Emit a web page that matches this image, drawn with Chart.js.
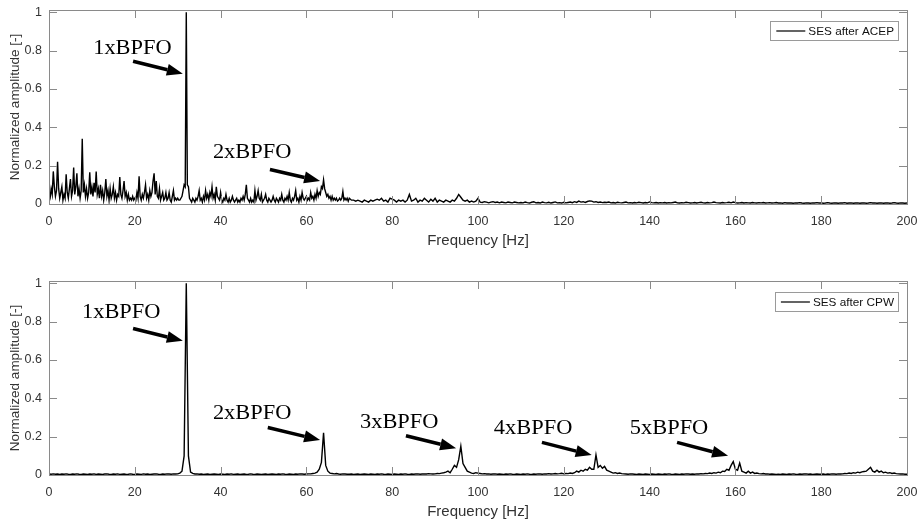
<!DOCTYPE html>
<html>
<head>
<meta charset="utf-8">
<script src="https://cdn.jsdelivr.net/npm/chart.js@4.4.1/dist/chart.umd.min.js"></script>
<style>
  body { margin: 0; background: #fff; }
  .panel { position: absolute; left: 0; width: 921px; }
</style>
</head>
<body>
<div class="panel" style="top:0;height:255px"><canvas id="acepChart"></canvas></div>
<div class="panel" style="top:271px;height:250px"><canvas id="cpwChart"></canvas></div>
<script>
const xTicks = [0, 20, 40, 60, 80, 100, 120, 140, 160, 180, 200];
const yTicks = [0, 0.2, 0.4, 0.6, 0.8, 1];

// SES after ACEP: 0-69.75 Hz in 0.25 Hz bins
const acepLowStart = 0, acepLowStep = 0.25;
const acepLow = [
  0.01, 0.03, 0.08, 0.05, 0.17, 0.09, 0.04, 0.07, 0.22, 0.08, 0.03, 0.06, 0.09, 0.02, 0.05, 0.03, 0.155, 0.06, 0.03, 0.08,
  0.13, 0.04, 0.07, 0.19, 0.05, 0.09, 0.16, 0.04, 0.08, 0.03, 0.07, 0.34, 0.06, 0.1, 0.04, 0.08, 0.03, 0.06, 0.165, 0.05,
  0.09, 0.04, 0.11, 0.06, 0.17, 0.05, 0.08, 0.03, 0.1, 0.04, 0.07, 0.02, 0.06, 0.13, 0.04, 0.07, 0.02, 0.08, 0.03, 0.05,
  0.09, 0.03, 0.06, 0.02, 0.05, 0.04, 0.14, 0.05, 0.03, 0.07, 0.12, 0.04, 0.06, 0.02, 0.05, 0.02, 0.03, 0.02, 0.04, 0.02,
  0.03, 0.02, 0.06, 0.03, 0.145, 0.04, 0.02, 0.05, 0.03, 0.06, 0.1, 0.03, 0.05, 0.02, 0.07, 0.04, 0.06, 0.12, 0.16, 0.05,
  0.12, 0.04, 0.03, 0.08, 0.02, 0.04, 0.06, 0.02, 0.03, 0.06, 0.02, 0.03, 0.06, 0.02, 0.01, 0.04, 0.07, 0.02, 0.03, 0.02,
  0.03, 0.02, 0.02, 0.03, 0.04, 0.07, 0.1, 0.09, 1.0, 0.1, 0.09, 0.03, 0.02, 0.01, 0.03, 0.02, 0.01, 0.03, 0.02, 0.04,
  0.07, 0.02, 0.03, 0.01, 0.04, 0.02, 0.07, 0.03, 0.05, 0.02, 0.06, 0.04, 0.09, 0.03, 0.05, 0.02, 0.09, 0.04, 0.03, 0.02,
  0.06, 0.02, 0.01, 0.03, 0.02, 0.05, 0.02, 0.01, 0.03, 0.01, 0.02, 0.04, 0.02, 0.01, 0.02, 0.03, 0.01, 0.02, 0.01, 0.03,
  0.02, 0.04, 0.02, 0.05, 0.1, 0.03, 0.02, 0.01, 0.03, 0.01, 0.02, 0.01, 0.07, 0.02, 0.04, 0.07, 0.03, 0.02, 0.05, 0.01,
  0.02, 0.03, 0.05, 0.02, 0.01, 0.03, 0.02, 0.01, 0.02, 0.04, 0.02, 0.01, 0.03, 0.02, 0.01, 0.03, 0.02, 0.05, 0.02, 0.01,
  0.03, 0.02, 0.04, 0.02, 0.06, 0.02, 0.01, 0.03, 0.02, 0.04, 0.07, 0.02, 0.03, 0.01, 0.04, 0.02, 0.06, 0.03, 0.02, 0.03,
  0.04, 0.02, 0.03, 0.02, 0.06, 0.03, 0.04, 0.02, 0.05, 0.03, 0.07, 0.04, 0.06, 0.05, 0.09, 0.08, 0.125, 0.08, 0.06, 0.04,
  0.05, 0.03, 0.04, 0.02, 0.04, 0.02, 0.03, 0.02, 0.03, 0.015, 0.02, 0.03, 0.02, 0.03, 0.065, 0.02, 0.03, 0.02, 0.03, 0.015
];
// SES after ACEP: 70-200 Hz in 0.5 Hz bins
const acepHighStart = 70, acepHighStep = 0.5;
const acepHigh = [
  0.03, 0.02, 0.02, 0.015, 0.02, 0.015, 0.01, 0.02, 0.015, 0.01, 0.02, 0.015, 0.02, 0.025, 0.02, 0.03, 0.015, 0.02, 0.01, 0.03,
  0.025, 0.02, 0.01, 0.02, 0.015, 0.02, 0.01, 0.02, 0.05, 0.015, 0.02, 0.03, 0.01, 0.02, 0.015, 0.03, 0.02, 0.01, 0.025, 0.015,
  0.03, 0.01, 0.02, 0.015, 0.01, 0.02, 0.015, 0.01, 0.02, 0.015, 0.03, 0.05, 0.035, 0.02, 0.015, 0.02, 0.01, 0.015, 0.01, 0.015,
  0.03, 0.01, 0.008, 0.012, 0.01, 0.006, 0.01, 0.012, 0.008, 0.01, 0.006, 0.01, 0.008, 0.006, 0.01, 0.008, 0.006, 0.01, 0.008, 0.006,
  0.008, 0.006, 0.01, 0.007, 0.005, 0.009, 0.012, 0.006, 0.008, 0.005, 0.01, 0.007, 0.006, 0.009, 0.005, 0.008, 0.011, 0.006, 0.007, 0.005,
  0.009, 0.006, 0.008, 0.01, 0.007, 0.012, 0.008, 0.015, 0.01, 0.012, 0.008, 0.013, 0.016, 0.015, 0.01, 0.012, 0.008, 0.01, 0.007, 0.009,
  0.008, 0.01, 0.006, 0.008, 0.005, 0.009, 0.007, 0.006, 0.008, 0.01, 0.006, 0.007, 0.005, 0.008, 0.006, 0.009, 0.007, 0.005, 0.008, 0.006,
  0.011, 0.007, 0.006, 0.008, 0.005, 0.007, 0.006, 0.008, 0.005, 0.007, 0.006, 0.008, 0.01, 0.006, 0.005, 0.007, 0.006, 0.009, 0.007, 0.005,
  0.006, 0.008, 0.005, 0.007, 0.009, 0.006, 0.005, 0.008, 0.006, 0.007, 0.01, 0.007, 0.006, 0.005, 0.008, 0.006, 0.007, 0.009, 0.006, 0.01,
  0.007, 0.005, 0.006, 0.008, 0.005, 0.007, 0.006, 0.005, 0.008, 0.006, 0.005, 0.007, 0.006, 0.008, 0.005, 0.006, 0.007, 0.005, 0.006, 0.008,
  0.005, 0.006, 0.004, 0.007, 0.005, 0.006, 0.005, 0.004, 0.006, 0.005, 0.007, 0.005, 0.004, 0.006, 0.005, 0.004, 0.006, 0.005, 0.007, 0.005,
  0.006, 0.004, 0.005, 0.007, 0.005, 0.004, 0.006, 0.005, 0.004, 0.006, 0.005, 0.007, 0.004, 0.005, 0.006, 0.004, 0.005, 0.006, 0.004, 0.005,
  0.006, 0.004, 0.005, 0.007, 0.005, 0.006, 0.004, 0.005, 0.006, 0.004, 0.005, 0.006, 0.004, 0.005, 0.007, 0.005, 0.004, 0.006, 0.005, 0.004,
  0.005
];

// SES after CPW: 0-200 Hz in 0.5 Hz bins
const cpwStart = 0, cpwStep = 0.5;
const cpwAmp = [
  0.005, 0.004, 0.006, 0.004, 0.005, 0.003, 0.005, 0.004, 0.006, 0.004, 0.003, 0.005, 0.004, 0.006, 0.004, 0.003, 0.005, 0.004, 0.003, 0.005,
  0.004, 0.006, 0.003, 0.005, 0.004, 0.003, 0.005, 0.006, 0.004, 0.003, 0.005, 0.004, 0.006, 0.003, 0.004, 0.005, 0.003, 0.004, 0.006, 0.004,
  0.003, 0.005, 0.004, 0.003, 0.006, 0.004, 0.005, 0.003, 0.004, 0.005, 0.006, 0.004, 0.003, 0.005, 0.004, 0.006, 0.005, 0.004, 0.006, 0.005,
  0.006, 0.01, 0.02, 0.1, 1.0, 0.1, 0.015, 0.008, 0.005, 0.006, 0.004, 0.005, 0.003, 0.004, 0.005, 0.003, 0.004, 0.005, 0.004, 0.003,
  0.005, 0.004, 0.003, 0.005, 0.004, 0.006, 0.003, 0.004, 0.005, 0.003, 0.004, 0.005, 0.003, 0.004, 0.006, 0.004, 0.003, 0.005, 0.004, 0.003,
  0.004, 0.005, 0.003, 0.004, 0.005, 0.004, 0.003, 0.005, 0.004, 0.006, 0.004, 0.003, 0.005, 0.004, 0.003, 0.005, 0.004, 0.006, 0.005, 0.004,
  0.005, 0.006, 0.006, 0.008, 0.01, 0.015, 0.03, 0.066, 0.22, 0.05, 0.02, 0.01, 0.008, 0.006, 0.008, 0.005, 0.004, 0.006, 0.005, 0.004,
  0.004, 0.005, 0.003, 0.004, 0.005, 0.003, 0.004, 0.005, 0.004, 0.003, 0.005, 0.004, 0.003, 0.005, 0.004, 0.006, 0.004, 0.003, 0.005, 0.004,
  0.003, 0.005, 0.004, 0.003, 0.005, 0.004, 0.006, 0.004, 0.003, 0.005, 0.004, 0.005, 0.006, 0.004, 0.005, 0.006, 0.005, 0.007, 0.006, 0.005,
  0.006, 0.008, 0.007, 0.01, 0.012, 0.015, 0.02, 0.012, 0.03, 0.05, 0.04, 0.08, 0.15, 0.06, 0.04, 0.02, 0.015, 0.01, 0.008, 0.012,
  0.01, 0.008, 0.006, 0.007, 0.005, 0.006, 0.004, 0.005, 0.006, 0.004, 0.005, 0.004, 0.003, 0.005, 0.004, 0.006, 0.004, 0.003, 0.005, 0.004,
  0.003, 0.005, 0.004, 0.006, 0.004, 0.003, 0.005, 0.004, 0.006, 0.005, 0.004, 0.006, 0.005, 0.007, 0.005, 0.006, 0.008, 0.006, 0.007, 0.009,
  0.006, 0.008, 0.007, 0.01, 0.008, 0.012, 0.02, 0.015, 0.025, 0.02, 0.03, 0.025, 0.04, 0.03, 0.03, 0.105, 0.04, 0.05, 0.035, 0.045,
  0.025, 0.02, 0.015, 0.01, 0.012, 0.008, 0.01, 0.007, 0.006, 0.005, 0.004, 0.006, 0.005, 0.004, 0.003, 0.005, 0.004, 0.003, 0.005, 0.004,
  0.003, 0.005, 0.004, 0.003, 0.005, 0.004, 0.003, 0.005, 0.004, 0.006, 0.004, 0.003, 0.005, 0.004, 0.003, 0.005, 0.004, 0.006, 0.005, 0.004,
  0.005, 0.004, 0.006, 0.005, 0.007, 0.006, 0.008, 0.007, 0.01, 0.008, 0.012, 0.01, 0.015, 0.012, 0.02, 0.018, 0.03, 0.025, 0.05, 0.07,
  0.03, 0.025, 0.0625, 0.02, 0.015, 0.01, 0.02, 0.01, 0.015, 0.008, 0.01, 0.007, 0.006, 0.008, 0.005, 0.006, 0.004, 0.005, 0.004, 0.003,
  0.004, 0.003, 0.005, 0.004, 0.003, 0.005, 0.004, 0.006, 0.004, 0.003, 0.005, 0.004, 0.005, 0.006, 0.004, 0.005, 0.003, 0.004, 0.005, 0.004,
  0.004, 0.005, 0.003, 0.005, 0.004, 0.006, 0.005, 0.004, 0.006, 0.005, 0.006, 0.008, 0.007, 0.01, 0.008, 0.012, 0.01, 0.015, 0.012, 0.016,
  0.018, 0.02, 0.03, 0.04, 0.02, 0.015, 0.025, 0.015, 0.02, 0.012, 0.015, 0.01, 0.012, 0.008, 0.01, 0.007, 0.006, 0.005, 0.006, 0.004,
  0.004
];

// harmonic labels: text anchor and arrow tail/head in data units
const acepNotes = [
  { label: '1xBPFO', at: [10.3, 0.81], from: [19.6, 0.745], to: [31.2, 0.68] },
  { label: '2xBPFO', at: [38.2, 0.267], from: [51.5, 0.18], to: [63.2, 0.12] }
];
const cpwNotes = [
  { label: '1xBPFO', at: [7.7, 0.847], from: [19.6, 0.764], to: [31.2, 0.70] },
  { label: '2xBPFO', at: [38.2, 0.32], from: [51.0, 0.248], to: [63.2, 0.182] },
  { label: '3xBPFO', at: [72.5, 0.274], from: [83.2, 0.205], to: [94.9, 0.14] },
  { label: '4xBPFO', at: [103.7, 0.243], from: [114.9, 0.17], to: [126.5, 0.104] },
  { label: '5xBPFO', at: [135.4, 0.243], from: [146.4, 0.17], to: [158.3, 0.10] }
];

const boxColor = '#8a8a8a';
const textColor = '#333';
const sans = '"Liberation Sans", Arial, sans-serif';

function toPoints(amps, start, step) {
  return amps.map((a, i) => ({ x: start + i * step, y: a }));
}

function drawArrow(ctx, x1, y1, x2, y2) {
  const ang = Math.atan2(y2 - y1, x2 - x1);
  const head = 16, half = 6;
  const bx = x2 - head * Math.cos(ang), by = y2 - head * Math.sin(ang);
  ctx.lineWidth = 3.5;
  ctx.beginPath();
  ctx.moveTo(x1, y1);
  ctx.lineTo(bx, by);
  ctx.stroke();
  ctx.beginPath();
  ctx.moveTo(x2, y2);
  ctx.lineTo(bx + half * Math.sin(ang), by - half * Math.cos(ang));
  ctx.lineTo(bx - half * Math.sin(ang), by + half * Math.cos(ang));
  ctx.closePath();
  ctx.fill();
}

const matlabLook = {
  id: 'matlabLook',
  afterDatasetsDraw(chart, args, opts) {
    const { ctx, scales: { x, y } } = chart;
    ctx.save();
    ctx.fillStyle = '#000';
    ctx.strokeStyle = '#000';
    ctx.textBaseline = 'middle';
    opts.notes.forEach(n => {
      const tx = x.getPixelForValue(n.at[0]), ty = y.getPixelForValue(n.at[1]);
      ctx.save();
      ctx.translate(tx, ty);
      ctx.scale(1.12, 1);
      ctx.font = '20px "Liberation Serif", "Times New Roman", serif';
      ctx.fillText(n.label, 0, 0);
      ctx.restore();
      drawArrow(ctx,
        x.getPixelForValue(n.from[0]), y.getPixelForValue(n.from[1]),
        x.getPixelForValue(n.to[0]), y.getPixelForValue(n.to[1]));
    });
    ctx.restore();
  },
  afterDraw(chart, args, opts) {
    const { ctx, chartArea: a, scales: { x, y } } = chart;
    ctx.save();
    ctx.strokeStyle = boxColor;
    ctx.lineWidth = 1;
    ctx.strokeRect(Math.round(a.left) + 0.5, Math.round(a.top) + 0.5,
      Math.round(a.right - a.left), Math.round(a.bottom - a.top));
    const tl = 8;
    ctx.beginPath();
    x.ticks.forEach(t => {
      const px = Math.round(x.getPixelForValue(t.value)) + 0.5;
      ctx.moveTo(px, a.bottom); ctx.lineTo(px, a.bottom - tl);
      ctx.moveTo(px, a.top); ctx.lineTo(px, a.top + tl);
    });
    y.ticks.forEach(t => {
      const py = Math.round(y.getPixelForValue(t.value)) + 0.5;
      ctx.moveTo(a.left, py); ctx.lineTo(a.left + tl, py);
      ctx.moveTo(a.right, py); ctx.lineTo(a.right - tl, py);
    });
    ctx.stroke();

    // legend box, top right
    const sx = 1.07;
    ctx.font = '11px ' + sans;
    const tw = ctx.measureText(opts.legend).width * sx;
    const right = a.right - 9, top = a.top + 11, h = 19;
    const textLeft = right - 4 - tw;
    const lineRight = textLeft - 3, lineLeft = lineRight - 29;
    const left = lineLeft - 6;
    ctx.fillStyle = '#fff';
    ctx.fillRect(left, top, right - left, h);
    ctx.strokeStyle = '#9a9a9a';
    ctx.strokeRect(Math.round(left) + 0.5, top + 0.5, Math.round(right - left), h);
    ctx.strokeStyle = '#222';
    ctx.lineWidth = 1.4;
    ctx.beginPath();
    ctx.moveTo(lineLeft, top + h / 2 + 0.5);
    ctx.lineTo(lineRight, top + h / 2 + 0.5);
    ctx.stroke();
    ctx.fillStyle = '#111';
    ctx.textBaseline = 'middle';
    ctx.translate(textLeft, top + h / 2 + 1);
    ctx.scale(sx, 1);
    ctx.fillText(opts.legend, 0, 0);
    ctx.restore();
  }
};

function makeChart(id, points, legendText, notes, xAxisHeight, titleGap) {
  return new Chart(document.getElementById(id), {
    type: 'line',
    data: {
      datasets: [{
        label: legendText,
        data: points,
        borderColor: '#000',
        borderWidth: 1.4,
        pointRadius: 0,
        tension: 0
      }]
    },
    options: {
      responsive: true,
      maintainAspectRatio: false,
      animation: false,
      events: [],
      layout: { padding: { top: 10, right: 14, left: 0, bottom: 0 } },
      plugins: {
        legend: { display: false },
        tooltip: { enabled: false },
        matlabLook: { legend: legendText, notes: notes }
      },
      scales: {
        x: {
          type: 'linear',
          min: 0,
          max: 200,
          afterBuildTicks: s => { s.ticks = xTicks.map(v => ({ value: v })); },
          afterFit: s => { s.height = xAxisHeight; s.paddingLeft = 0; s.paddingRight = 0; },
          grid: { display: false, drawTicks: false },
          border: { display: false },
          ticks: {
            padding: 10,
            maxRotation: 0,
            color: textColor,
            font: { family: sans, size: 12.5 },
            callback: v => String(v)
          },
          title: {
            display: true,
            text: 'Frequency [Hz]',
            color: textColor,
            font: { family: sans, size: 15 },
            padding: { top: 0, bottom: titleGap }
          }
        },
        y: {
          min: 0,
          max: 1.012,
          afterBuildTicks: s => { s.ticks = yTicks.map(v => ({ value: v })); },
          afterFit: s => { s.width = 49; s.paddingTop = 0; s.paddingBottom = 0; },
          grid: { display: false, drawTicks: false },
          border: { display: false },
          ticks: {
            padding: 7,
            color: textColor,
            font: { family: sans, size: 12.5 },
            callback: v => String(v)
          },
          title: {
            display: true,
            text: 'Normalized amplitude [-]',
            color: textColor,
            font: { family: sans, size: 13.5 },
            padding: { top: 7, bottom: 0 }
          }
        }
      }
    },
    plugins: [matlabLook]
  });
}

makeChart('acepChart',
  toPoints(acepLow, acepLowStart, acepLowStep).concat(toPoints(acepHigh, acepHighStart, acepHighStep)),
  'SES after ACEP', acepNotes, 51, 5);
makeChart('cpwChart', toPoints(cpwAmp, cpwStart, cpwStep), 'SES after CPW', cpwNotes, 46, 0);
</script>
</body>
</html>
